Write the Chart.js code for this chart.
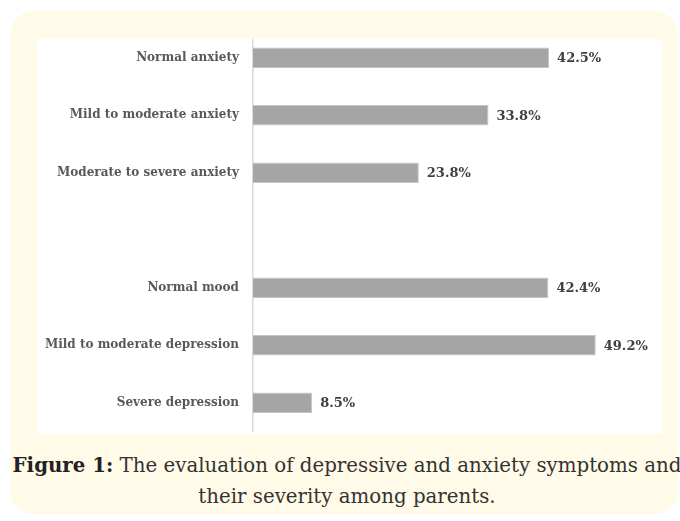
<!DOCTYPE html>
<html>
<head>
<meta charset="utf-8">
<script src="https://cdn.jsdelivr.net/npm/chart.js@4.4.0/dist/chart.umd.js"></script>
<style>
    html, body { margin: 0; padding: 0; width: 680px; height: 521px; overflow: hidden; background: #fff; }
    .box { position: absolute; left: 10px; top: 10px; width: 668px; height: 505px; border-radius: 26px; background: #fffbe8; }
    .plot { position: absolute; left: 37px; top: 39px; width: 625px; height: 395px; background: #fff; overflow: hidden; }
    .plot canvas { position: absolute; left: 0; top: -10px; }
    .caption { position: absolute; left: 10px; top: 450px; width: 674px; text-align: center; white-space: nowrap;
               font-family: "DejaVu Serif", serif; font-size: 19.8px; line-height: 31px; color: #333; }
    .caption b { color: #222; }
</style>
</head>
<body>
<div class="box"></div>
<div class="plot"><canvas id="chart" width="634" height="405"></canvas></div>
<div class="caption"><b>Figure 1:</b> The evaluation of depressive and anxiety symptoms and<br>their severity among parents.</div>
<script>
// one blank row separates the anxiety group from the mood group
const categories = ['Normal anxiety', 'Mild to moderate anxiety', 'Moderate to severe anxiety', '',
                    'Normal mood', 'Mild to moderate depression', 'Severe depression'];
const percents = [42.5, 33.8, 23.8, null, 42.4, 49.2, 8.5];
const valueLabels = ['42.5%', '33.8%', '23.8%', '', '42.4%', '49.2%', '8.5%'];

const barLabels = {
    id: 'barLabels',
    afterDatasetsDraw(chart) {
        const ctx = chart.ctx;
        const meta = chart.getDatasetMeta(0);
        ctx.save();
        ctx.font = 'bold 13px "DejaVu Serif"';
        ctx.fillStyle = '#404040';
        ctx.textBaseline = 'middle';
        meta.data.forEach((bar, i) => {
            if (percents[i] == null) return;
            ctx.fillText(valueLabels[i], bar.x + 8, bar.y + 1);
        });
        ctx.restore();
    },
};

new Chart(document.getElementById('chart'), {
    type: 'bar',
    data: {
        labels: categories,
        datasets: [{
            data: percents,
            backgroundColor: '#a5a5a5',
            borderColor: '#c4c4c4',
            borderWidth: 1,
            categoryPercentage: 1,
            barPercentage: 0.36,
        }],
    },
    options: {
        indexAxis: 'y',
        responsive: false,
        animation: false,
        layout: { padding: { top: 0, bottom: 2.5, left: 0, right: 0 } },
        plugins: { legend: { display: false }, tooltip: { enabled: false } },
        scales: {
            x: { display: false, min: 0, max: 60 },
            y: {
                grid: { display: false, drawTicks: false },
                border: { display: true, color: '#d9d9d9', width: 1.5 },
                ticks: { padding: 14, color: '#595959', font: { family: 'DejaVu Serif', size: 12, weight: 'bold' } },
                // fixed label column, and no extra top/bottom room for the tick labels
                afterFit: (s) => { s.width = 216; s.paddingTop = 0; s.paddingBottom = 0; },
            },
        },
    },
    plugins: [barLabels],
});
</script>
</body>
</html>
